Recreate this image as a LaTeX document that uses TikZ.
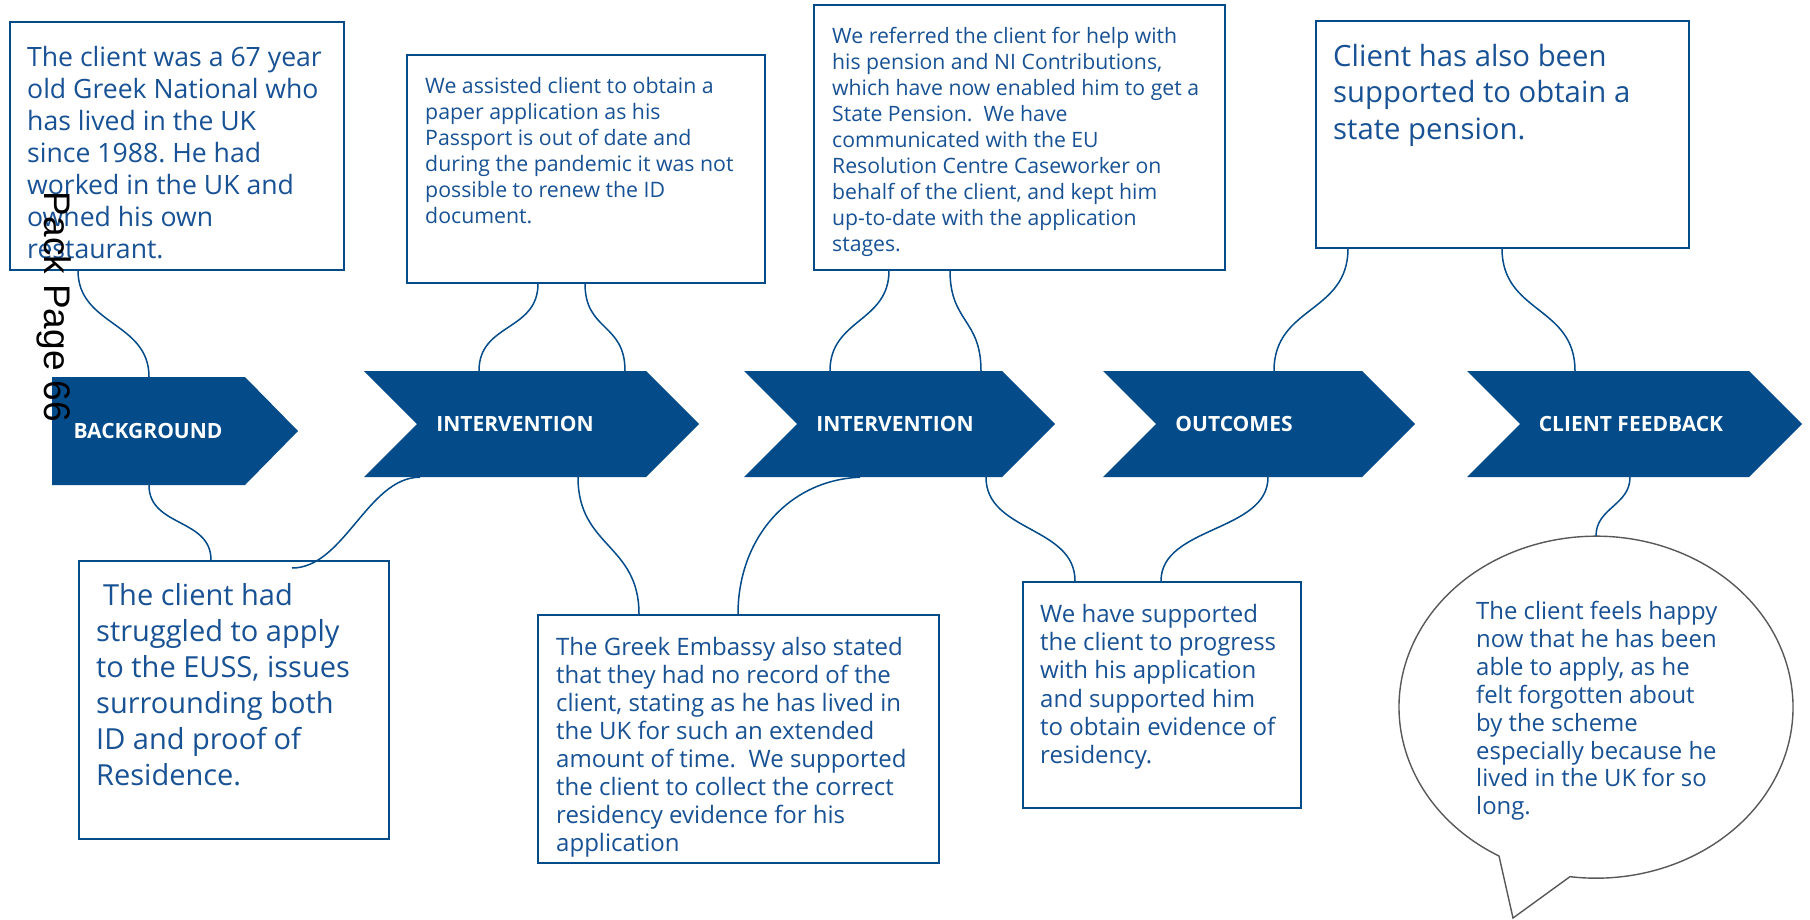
\documentclass[tikz,border=0pt]{standalone}
\usepackage{fontspec}
\setmainfont{Open Sans}
\newfontfamily\pagefont{Liberation Sans}
\usetikzlibrary{shapes.geometric}
\frenchspacing

\definecolor{navy}{RGB}{3,75,137}
\definecolor{inktext}{RGB}{24,82,148}
\definecolor{bubbleline}{RGB}{88,88,88}

\tikzset{
  chevfill/.style={fill=navy},
  chevlabel/.style={inner sep=0pt, minimum height=106pt, text=white,
    font=\fontsize{21}{24}\selectfont\bfseries},
  infobox/.style={draw=navy, line width=1.5pt, fill=white, anchor=north west,
    inner sep=0pt},
  boxtext/.style={anchor=north west, inner sep=0pt, align=left, text=inktext},
  conn/.style={draw=navy, line width=1.5pt},
}

\begin{document}
\begin{tikzpicture}[x=1pt,y=-1pt]
\useasboundingbox (0,0) rectangle (1810,919);
\fill[white] (0,0) rectangle (1810,919);

% ---- process chevrons ----
\fill[chevfill] (52,377) -- (245,377) -- (298,431) -- (245,485) -- (52,485) -- cycle;
\fill[chevfill] (364,371) -- (646,371) -- (699,424) -- (646,477) -- (364,477) -- (417,424) -- cycle;
\fill[chevfill] (744,371) -- (1002,371) -- (1055,424) -- (1002,477) -- (744,477) -- (797,424) -- cycle;
\fill[chevfill] (1103,371) -- (1362,371) -- (1415,424) -- (1362,477) -- (1103,477) -- (1156,424) -- cycle;
\fill[chevfill] (1467,371) -- (1749,371) -- (1802,424) -- (1749,477) -- (1467,477) -- (1520,424) -- cycle;

\node[chevlabel, minimum height=108pt] (ch1) at (148,431) {BACKGROUND};
\node[chevlabel] (ch2) at (515,424) {INTERVENTION};
\node[chevlabel] (ch3) at (895,424) {INTERVENTION};
\node[chevlabel] (ch4) at (1234,424) {OUTCOMES};
\node[chevlabel] (ch5) at (1631,424) {CLIENT FEEDBACK};

% ---- text boxes ----
\node[infobox, minimum width=334pt, minimum height=248pt] (boxA) at (9,21) {};
\node[boxtext, font=\fontsize{26.6}{32}\selectfont] (txtA) at (27,43.5)
  {\strut The client was a 67 year\\old Greek National who\\has lived in the UK\\since 1988. He had\\worked in the UK and\\owned his own\\restaurant.};

\node[infobox, minimum width=310pt, minimum height=278pt] (boxB) at (78,560) {};
\node[boxtext, font=\fontsize{29}{36}\selectfont] (txtB) at (96,580.5)
  {\strut\hspace{7pt}The client had\\struggled to apply\\to the EUSS, issues\\surrounding both\\ID and proof of\\Residence.};

\node[infobox, minimum width=358pt, minimum height=228pt] (boxC) at (406,54) {};
\node[boxtext, font=\fontsize{21.3}{26.1}\selectfont] (txtC) at (425,75)
  {\strut We assisted client to obtain a\\paper application as his\\Passport is out of date and\\during the pandemic it was not\\possible to renew the ID\\document.};

\node[infobox, minimum width=401pt, minimum height=248pt] (boxD) at (537,614) {};
\node[boxtext, font=\fontsize{24}{28}\selectfont] (txtD) at (556,635.2)
  {\strut The Greek Embassy also stated\\that they had no record of the\\client, stating as he has lived in\\the UK for such an extended\\amount of time.\ \ We supported\\the client to collect the correct\\residency evidence for his\\application};

\node[infobox, minimum width=411pt, minimum height=265pt] (boxE) at (813,4) {};
\node[boxtext, font=\fontsize{21.2}{26.1}\selectfont] (txtE) at (832,24.6)
  {\strut We referred the client for help with\\his pension and NI Contributions,\\which have now enabled him to get a\\State Pension.\ \ We have\\communicated with the EU\\Resolution Centre Caseworker on\\behalf of the client, and kept him\\up-to-date with the application\\stages.};

\node[infobox, minimum width=278pt, minimum height=226pt] (boxF) at (1022,581) {};
\node[boxtext, font=\fontsize{24}{28.2}\selectfont] (txtF) at (1040,602.5)
  {\strut We have supported\\the client to progress\\with his application\\and supported him\\to obtain evidence of\\residency.};

\node[infobox, minimum width=373pt, minimum height=227pt] (boxG) at (1315,20) {};
\node[boxtext, font=\fontsize{29.3}{36.4}\selectfont] (txtG) at (1333,40.8)
  {\strut Client has also been\\supported to obtain a\\state pension.};

% ---- speech bubble ----
\node[ellipse, inner sep=0pt, minimum width=394pt, minimum height=342pt] (bubble) at (1596,707) {};
\draw[draw=bubbleline, fill=white, line width=1.4pt, line join=miter]
  (1513,918) -- (1499,856)
  arc[start angle=119.5, end angle=457.6, x radius=197, y radius=171]
  -- cycle;
\node[boxtext, font=\fontsize{23.9}{27.9}\selectfont] (txtH) at (1476,599.8)
  {\strut The client feels happy\\now that he has been\\able to apply, as he\\felt forgotten about\\by the scheme\\especially because he\\lived in the UK for so\\long.};

% ---- connectors ----
\draw[conn] ([xshift=69pt]boxA.south west) .. controls +(0,55) and +(0,-55) .. ([xshift=1pt]ch1.north);
\draw[conn] ([xshift=1pt]ch1.south) .. controls +(0,42) and +(0,-42) .. ([xshift=133pt]boxB.north west);
\coordinate (bEnd) at ([shift={(214,8)}]boxB.north west);
\draw[conn] ([xshift=-95pt]ch2.south) .. controls +(-52,0) and +(52,0) .. (bEnd);
\draw[conn] ([xshift=132pt]boxC.south west) .. controls +(0,48) and +(0,-48) .. ([xshift=-36pt]ch2.north);
\draw[conn] ([xshift=179pt]boxC.south west) .. controls +(0,48) and +(0,-48) .. ([xshift=110pt]ch2.north);
\draw[conn] ([xshift=63pt]ch2.south) .. controls +(0,70) and +(0,-70) .. ([xshift=102pt]boxD.north west);
\draw[conn] ([xshift=-35pt]ch3.south) .. controls +(-72,3) and +(0,-75) .. ([xshift=201pt]boxD.north west);
\draw[conn] ([xshift=76pt]boxE.south west) .. controls +(0,52) and +(0,-52) .. ([xshift=-65pt]ch3.north);
\draw[conn] ([xshift=137pt]boxE.south west) .. controls +(0,52) and +(0,-52) .. ([xshift=86pt]ch3.north);
\draw[conn] ([xshift=91pt]ch3.south) .. controls +(0,55) and +(0,-55) .. ([xshift=53pt]boxF.north west);
\draw[conn] ([xshift=34pt]ch4.south) .. controls +(0,55) and +(0,-55) .. ([xshift=139pt]boxF.north west);
\draw[conn] ([xshift=33pt]boxG.south west) .. controls +(0,65) and +(0,-65) .. ([xshift=40pt]ch4.north);
\draw[conn] ([xshift=187pt]boxG.south west) .. controls +(0,65) and +(0,-65) .. ([xshift=-56pt]ch5.north);
\draw[conn] ([xshift=-1pt]ch5.south) .. controls +(0,28) and +(0,-28) .. (bubble.north);

% ---- page stamp ----
\node[rotate=-90, inner sep=0pt, text=black, font=\pagefont\fontsize{37}{40}\selectfont] (stamp) at (54,307) {Pack Page 66};
\end{tikzpicture}
\end{document}
